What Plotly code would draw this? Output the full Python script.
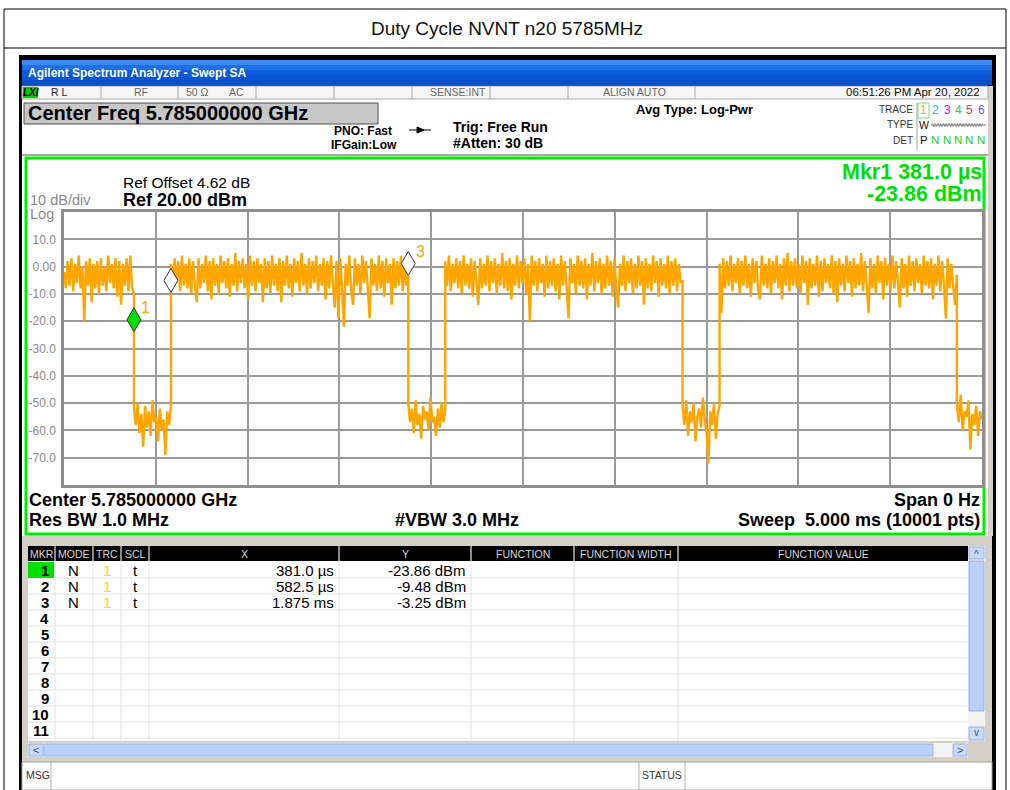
import numpy as np
import plotly.graph_objects as go

W, H = 1010, 790
FONT = "Arial, 'Liberation Sans', sans-serif"

# ---------------- data ----------------
title_text = "Duty Cycle NVNT n20 5785MHz"
sweep_ms = 5.0
y_top, y_bottom = 20.0, -80.0
x_grid_step = 0.5
y_grid_step = 10.0
y_tick_vals = [10, 0, -10, -20, -30, -40, -50, -60, -70]
y_tick_text = ["10.0", "0.00", "-10.0", "-20.0", "-30.0", "-40.0", "-50.0", "-60.0", "-70.0"]

# segment boundaries of the zero-span trace (ms): on / off alternating
edge_times = [0.0, 0.381, 0.5825, 1.875, 2.0765, 3.369, 3.5705, 4.863, 5.0]

seg_a = [-2, -8, 2, -7, 3, -9, 1, -6, 4, -8, 0, -20, 2, -7, 3, -13, 1, -8, 2, -10,
         3, -7, 0, -9, 4, -6, 1, -8, 3, -11, 2, -14, 1, -7, 3, -9, 4, -8, -10]
seg_b = [-52, -58, -50, -61, -54, -66, -51, -59, -53, -62, -49, -57, -55, -64, -52,
         -60, -56, -69, -53, -58, -51]
seg_c = [1, -8, 3, -6, 2, -9, 4, -7, 1, -8,
         3, -10, 2, -7, -13, 3, -8, 1, -6, 4,
         -9, 2, -12, 3, -7, 1, -10, 4, -6, 2,
         -8, 3, -11, 1, -7, 5, -9, 2, -6, 3,
         -8, 1, -12, 4, -7, 2, -9, 3, -6, 1,
         -13, 3, -8, 2, -10, 4, -7, 1, -9, 3,
         -13, 2, -7, 4, -8, 1, -11, 3, -6, 2,
         -9, 5, -7, 1, -10, 3, -8, 2, -6, 4,
         -9, 1, -7, 3, -12, 2, -8, 4, -6, -15,
         2, -19, 3, -8, -22, 1, -7, 4, -9, -14,
         3, -7, 1, -10, 4, -6, 2, -8, -19, 3,
         -7, 1, -9, 4, -8, 2, -11, 3, -6, 1,
         -14, 3, -8, 2, -7, 4, -9, 1, -7, -3.25]
seg_d = [-50, -57, -52, -61, -49, -58, -54, -63, -51, -56, -53, -60, -48, -57, -55,
         -62, -52, -59, -50, -57, -53]
seg_e = [2, -7, 4, -9, 1, -6, 3, -8, 2, -10,
         4, -7, 1, -8, 3, -11, 2, -6, -14, 3,
         -8, 1, -7, 4, -9, 2, -6, 3, -10, 1,
         -7, 5, -8, 2, -9, 3, -12, 1, -7, 4,
         -8, 2, -6, 3, -10, 1, -20, 4, -7, 2,
         -9, 3, -6, 1, -11, 4, -8, 2, -7, 3,
         -9, 1, -12, 4, -7, 2, -8, -19, 3, -6,
         1, -10, 4, -7, 2, -8, 3, -12, 1, -7,
         5, -9, 2, -6, 3, -10, 1, -8, 4, -7,
         2, -11, 3, -8, -15, 1, -7, 4, -9, 2,
         -6, 3, -10, 1, -8, 4, -7, 2, -14, 3,
         -8, 1, -9, 4, -6, 2, -11, 3, -7, 1,
         -8, 4, -10, 2, -7, 3, -9, 1, -6, -5]
seg_f = [-51, -58, -49, -62, -53, -57, -50, -64, -55, -52, -59, -48, -56, -61, -72,
         -53, -58, -50, -63, -54, -51]
seg_g = [1, -17, 3, -8, 2, -7, 4, -9, 1, -6,
         3, -10, 2, -7, 4, -8, 1, -11, 3, -6,
         2, -9, -12, 4, -7, 1, -8, 3, -10, 2,
         -6, 4, -8, 1, -12, 3, -7, 5, -9, 2,
         -7, 3, -8, 1, -10, 4, -6, 2, -14, 3,
         -8, 1, -7, 4, -11, 2, -9, 3, -6, 1,
         -8, 4, -10, 2, -13, 3, -7, 1, -9, 4,
         -6, 2, -11, 3, -8, 1, -7, 5, -9, 2,
         -7, -17, 3, -8, 1, -10, 4, -6, 2, -12,
         3, -7, 1, -9, 4, -8, 2, -6, -15, 3,
         -8, 1, -11, 4, -7, 2, -9, 3, -6, 1,
         -10, 4, -7, 2, -8, 3, -12, 1, -7, 4,
         -9, 2, -6, -19, 3, -8, 1, -7, -14, -3]
seg_h = [-50, -57, -47, -60, -53, -55, -49, -67, -54, -58, -51, -62, -53, -56]
segments = [seg_a, seg_b, seg_c, seg_d, seg_e, seg_f, seg_g, seg_h]

# marker table
mkr_num = [1, 2, 3]
mkr_x_ms = [0.381, 0.5825, 1.875]
mkr_y_dbm = [-23.86, -9.48, -3.25]
mkr_mode = ["N", "N", "N"]
mkr_trc = ["1", "1", "1"]
mkr_scl = ["t", "t", "t"]
mkr_label_visible = [True, False, True]
table_rows = 11

table_headers = ["MKR", "MODE", "TRC", "SCL", "X", "Y", "FUNCTION", "FUNCTION WIDTH", "FUNCTION VALUE"]

# ---------------- helpers ----------------
shapes, anns = [], []


def X(px):
    return px / W


def Y(py):
    return 1 - py / H


def rect(x0, y0, x1, y1, fill=None, lc=None, lw=0, layer="below"):
    shapes.append(dict(type="rect", xref="paper", yref="paper",
                       x0=X(x0), x1=X(x1), y0=Y(y0), y1=Y(y1),
                       fillcolor=fill if fill else "rgba(0,0,0,0)",
                       line=dict(color=lc if lc else "rgba(0,0,0,0)", width=lw),
                       layer=layer))


def line(x0, y0, x1, y1, color, lw=1, layer="below"):
    shapes.append(dict(type="line", xref="paper", yref="paper",
                       x0=X(x0), x1=X(x1), y0=Y(y0), y1=Y(y1),
                       line=dict(color=color, width=lw), layer=layer))


def txt(s, px, py, size, color="black", bold=False, anchor="left", family=FONT):
    anns.append(dict(text=f"<b>{s}</b>" if bold else s, x=X(px), y=Y(py),
                     xref="paper", yref="paper", xanchor=anchor, yanchor="middle",
                     showarrow=False, borderpad=0,
                     font=dict(size=size, color=color, family=family)))


def fmt_time(ms):
    return f"{ms * 1000:.1f} µs" if ms < 1 else f"{ms:.3f} ms"


def fmt_db(v):
    return f"{v:.2f} dBm"


# ---------------- page / title box ----------------
rect(4, 9, 1006, 800, fill="white", lc="black", lw=1)
line(4, 48, 1006, 48, "black", 1)
txt(title_text, 507, 29, 19, "#111", anchor="center")

# ---------------- analyzer screenshot frame ----------------
rect(19, 55, 996, 791, fill="black")
# blue title bar with simple gradient
blues = ["#3B8BF5", "#1E6FE8", "#0B5BDB", "#0A55D2", "#0A4FC8"]
for i, b in enumerate(blues):
    rect(22, 60 + i * 5, 992, 65 + i * 5, fill=b)
txt("Agilent Spectrum Analyzer - Swept SA", 27, 73, 12, "white", bold=True)

# white working area
rect(22, 86, 988, 536, fill="white")
rect(988, 86, 993, 536, fill="#D4D0C8")

# status row
rect(22, 86, 988, 99, fill="#F6F6F6", lc="#A8A8A8", lw=1)
for sx in [101, 178, 256, 334, 412, 490, 568, 695]:
    line(sx, 86, sx, 99, "#A8A8A8", 1)
rect(23, 87, 38, 98, fill="#00D000")
txt("<i><b>LXI</b></i>", 30.5, 92.5, 10, "black", anchor="center")
txt("R L", 50, 92.5, 10.5, "#222")
txt("RF", 133, 92.5, 10.5, "#666")
txt("50 Ω", 185, 92.5, 10.5, "#666")
txt("AC", 228, 92.5, 10.5, "#666")
txt("SENSE:INT", 487, 92.5, 10.5, "#666", anchor="right")
txt("ALIGN AUTO", 634, 92.5, 10.5, "#666", anchor="center")
txt("06:51:26 PM Apr 20, 2022", 981, 92.5, 11.5, "#111", anchor="right")

# center freq box
rect(24, 103, 378, 124, fill="#C8C8C8", lc="#505050", lw=1)
txt("Center Freq 5.785000000 GHz", 27, 113.5, 20, "black", bold=True)

txt("PNO: Fast", 363, 131, 12, "black", bold=True, anchor="center")
txt("IFGain:Low", 364, 145, 12, "black", bold=True, anchor="center")
line(409, 130, 431, 130, "black", 1)
shapes.append(dict(type="path", xref="paper", yref="paper",
                   path=f"M {X(417)} {Y(127)} L {X(424)} {Y(130)} L {X(417)} {Y(133)} Z",
                   fillcolor="black", line=dict(color="black", width=1), layer="below"))
txt("Trig: Free Run", 452, 127, 14, "black", bold=True)
txt("#Atten: 30 dB", 452, 143, 14, "black", bold=True)
txt("Avg Type: Log-Pwr", 635, 110, 13, "black", bold=True)

# trace legend block
line(917, 103, 917, 150, "#A0A0A0", 1)
rect(918, 103, 929, 118, lc="#7CD97C", lw=1)
txt("TRACE", 914, 110, 10, "#333", anchor="right")
txt("TYPE", 914, 125, 10, "#333", anchor="right")
txt("DET", 914, 140, 10, "#333", anchor="right")
trace_digits = ["1", "2", "3", "4", "5", "6"]
trace_cols = ["#FFA500", "#00C8FF", "#FF00FF", "#33CC33", "#FF3366", "#6A4BFF"]
trace_px = [923.5, 935, 947, 958, 969, 981]
for d, c, p in zip(trace_digits, trace_cols, trace_px):
    txt(d, p, 110, 12, c, anchor="center")
txt("W", 923.5, 125, 10.5, "#111", anchor="center")
txt("WWWWWWWWW", 931, 125, 6, "#777", anchor="left")
line(931, 125, 986, 125, "#777", 1)
txt("P", 923.5, 140, 11.5, "#111", anchor="center")
for p in trace_px[1:]:
    txt("N", p, 140, 11.5, "#22CC22", anchor="center")

# plot frame
line(22, 155, 988, 155, "#A8A8A8", 2)
rect(26, 158, 984, 534, lc="#00F000", lw=3)
txt("Ref Offset 4.62 dB", 122, 182, 15.5, "black")
txt("Ref 20.00 dBm", 122, 199.5, 18, "black", bold=True)
txt("10 dB/div", 29, 200, 14.5, "#8A8A8A")
txt("Log", 29, 214, 14.5, "#8A8A8A")
txt(f"Mkr{mkr_num[0]} {fmt_time(mkr_x_ms[0])}", 983, 172, 21.5, "#00E000", bold=True, anchor="right")
txt(fmt_db(mkr_y_dbm[0]), 983, 194, 21.5, "#00E000", bold=True, anchor="right")

txt("Center 5.785000000 GHz", 28, 500, 18, "black", bold=True)
txt("Res BW 1.0 MHz", 28, 520, 18, "black", bold=True)
txt("#VBW 3.0 MHz", 457, 520, 18, "black", bold=True, anchor="center")
txt("Span 0 Hz", 981, 500, 18, "black", bold=True, anchor="right")
txt("Sweep\u00a0 5.000 ms (10001 pts)", 981, 520, 18, "black", bold=True, anchor="right")

# ---------------- marker table ----------------
rect(22, 536, 992, 762, fill="#D4D0C8")
cols = [28, 55, 93, 121, 149, 339, 471, 574, 678, 968]
rect(28, 546, 968, 561, fill="black")
for i, hname in enumerate(table_headers):
    if i > 0:
        line(cols[i], 546, cols[i], 561, "#8A8A8A", 2)
    txt(hname, (cols[i] + cols[i + 1]) / 2, 553.5, 10.5, "#D8D8D8", anchor="center")
rect(28, 561, 968, 741, fill="white")
for k in range(1, table_rows + 1):
    line(28, 562 + 16 * k, 968, 562 + 16 * k, "#E2E2E2", 1)
for cx in cols[1:-1]:
    line(cx, 561, cx, 741, "#E2E2E2", 1)
rect(28, 562, 54, 578, fill="#00E000")
for r in range(table_rows):
    cy = 570 + 16 * r
    txt(str(r + 1), 50, cy, 15, "black", bold=True, anchor="right")
for r in range(len(mkr_num)):
    cy = 570 + 16 * r
    txt(mkr_mode[r], 73, cy, 15, "black", anchor="center")
    txt(mkr_trc[r], 107, cy, 15, "#F0E000", anchor="center")
    txt(mkr_scl[r], 135, cy, 15, "black", anchor="center")
    txt(fmt_time(mkr_x_ms[r]), 335, cy, 15, "black", anchor="right")
    txt(fmt_db(mkr_y_dbm[r]), 467, cy, 15, "black", anchor="right")

# scrollbars
rect(968, 546, 985, 741, fill="#F2F2F2")
rect(969, 547, 984, 559, fill="#C9D9FA", lc="#9CB3E6", lw=1)
txt("^", 976.5, 554, 10, "#3A4F8C", anchor="center")
rect(969, 561, 984, 711, fill="#BBD0F9", lc="#9CB3E6", lw=1)
rect(969, 727, 984, 740, fill="#C9D9FA", lc="#9CB3E6", lw=1)
txt("v", 976.5, 732, 10, "#3A4F8C", anchor="center")
rect(28, 743, 968, 757, fill="#F2F2F2")
rect(29, 744, 43, 756, fill="#C9D9FA", lc="#9CB3E6", lw=1)
txt("<", 36, 750, 11, "#3A4F8C", anchor="center")
rect(44, 744, 933, 756, fill="#BBD0F9", lc="#9CB3E6", lw=1)
rect(953, 744, 967, 756, fill="#C9D9FA", lc="#9CB3E6", lw=1)
txt(">", 960, 750, 11, "#3A4F8C", anchor="center")

# MSG bar
rect(22, 762, 992, 790, fill="white", lc="#A0A0A0", lw=1)
for sx in [51, 639, 685]:
    line(sx, 762, sx, 790, "#B0B0B0", 1)
txt("MSG", 25, 775, 10.5, "#333")
txt("STATUS", 662, 775, 10.5, "#333", anchor="center")

# ---------------- trace ----------------
t_all, v_all = [], []
for i, seg in enumerate(segments):
    ts = np.linspace(edge_times[i], edge_times[i + 1], len(seg))
    t_all.extend(ts.tolist())
    v_all.extend(seg)

fig = go.Figure()
fig.add_trace(go.Scatter(x=t_all, y=v_all, mode="lines",
                         line=dict(color="#FFA500", width=2.4, simplify=False),
                         hoverinfo="skip", showlegend=False))

# marker diamonds (tip at the marker point) + labels
for i in range(len(mkr_num)):
    fill = "#00E000" if i == 0 else "white"
    shapes.append(dict(type="path", xref="x", yref="y",
                       xsizemode="pixel", ysizemode="pixel",
                       xanchor=mkr_x_ms[i], yanchor=mkr_y_dbm[i],
                       path="M 0 0 L 7 12 L 0 24 L -7 12 Z",
                       fillcolor=fill, line=dict(color="#333333", width=1),
                       layer="above"))
    if mkr_label_visible[i]:
        anns.append(dict(text=str(mkr_num[i]), x=mkr_x_ms[i], y=mkr_y_dbm[i],
                         xref="x", yref="y", xshift=12, yshift=24,
                         showarrow=False, font=dict(size=16, color="#FFA500", family=FONT)))

fig.update_layout(
    width=W, height=H, autosize=False,
    margin=dict(l=0, r=0, t=0, b=0),
    paper_bgcolor="white", plot_bgcolor="white",
    shapes=shapes, annotations=anns, showlegend=False,
    xaxis=dict(domain=[X(64), X(982)], range=[0, sweep_ms], dtick=x_grid_step, tick0=0,
               tickmode="linear",
               showgrid=True, gridcolor="#9A9A9A", gridwidth=1.5,
               showticklabels=False, zeroline=False,
               showline=True, mirror=True, linecolor="#8E8E8E", linewidth=2.5),
    yaxis=dict(domain=[Y(485), Y(212)], range=[y_bottom, y_top],
               showgrid=True, gridcolor="#9A9A9A", gridwidth=1.5,
               tickmode="array", tickvals=y_tick_vals, ticktext=y_tick_text,
               tickfont=dict(size=12, color="#8A8A8A", family=FONT),
               ticks="outside", ticklen=3, tickcolor="rgba(0,0,0,0)",
               zeroline=False,
               showline=True, mirror=True, linecolor="#8E8E8E", linewidth=2.5),
)

fig.write_html("out.html", config={"displayModeBar": False},
               post_script="document.body.style.margin='0';")
